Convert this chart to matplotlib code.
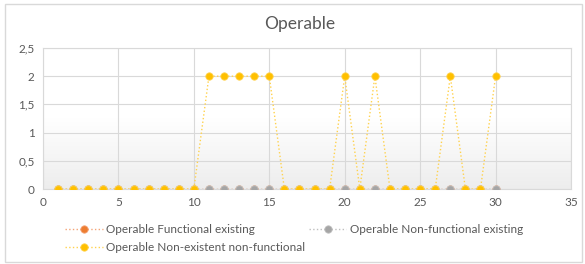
import matplotlib
matplotlib.use("Agg")
import matplotlib.pyplot as plt
import numpy as np
from matplotlib.lines import Line2D
from matplotlib.patches import Rectangle
from matplotlib.colors import LinearSegmentedColormap

plt.rcParams['font.family'] = ['Lato', 'DejaVu Sans']

x = list(range(1, 31))
functional_existing = [0] * 30
nonfunctional_existing = [0] * 30
nonexistent_nonfunctional = [0, 0, 0, 0, 0, 0, 0, 0, 0, 0,
                             2, 2, 2, 2, 2, 0, 0, 0, 0, 2,
                             0, 2, 0, 0, 0, 0, 2, 0, 0, 2]
labels = ["Operable Functional existing",
          "Operable Non-functional existing",
          "Operable Non-existent non-functional"]
title = "Operable"
yticks = [0, 0.5, 1, 1.5, 2, 2.5]
ytick_labels = ["0", "0,5", "1", "1,5", "2", "2,5"]
xticks = [0, 5, 10, 15, 20, 25, 30, 35]

c_orange = "#ED7D31"
c_gray = "#A5A5A5"
c_yellow = "#FFC000"
txt = "#595959"

fig = plt.figure(figsize=(5.85, 2.64), dpi=100)
fig.patches.append(Rectangle((5/585, 2/264), 577/585, 258/264, transform=fig.transFigure,
                             fill=False, edgecolor="#D9D9D9", linewidth=1))
ax = fig.add_axes([43/585, 1-189/264, (571-43)/585, (189-48)/264])

# gradient background
grad = np.linspace(0, 1, 256).reshape(-1, 1)
cmap = LinearSegmentedColormap.from_list("g", ["#FFFFFF", "#FFFFFF", "#EDEDED"])
ax.imshow(grad, extent=[0, 35, 0, 2.5], aspect='auto', cmap=cmap, origin='upper', zorder=0)

series = [(functional_existing, c_orange, "#F4A477"),
          (nonfunctional_existing, c_gray, "#BFBFBF"),
          (nonexistent_nonfunctional, c_yellow, "#FFD24D")]
handles = []
for (vals, col, light), lab in zip(series, labels):
    ax.plot(x, vals, linestyle=':', color=light, linewidth=1.0, zorder=2)
    ax.plot(x, vals, linestyle='none', marker='o', markersize=5.3,
            markerfacecolor=col, markeredgecolor=light, markeredgewidth=0.6, zorder=3)
    handles.append(Line2D([0], [0], linestyle=':', color=light, linewidth=1.0,
                          marker='o', markersize=5.3, markerfacecolor=col,
                          markeredgecolor=light, markeredgewidth=0.6))

ax.set_xlim(0, 35)
ax.set_ylim(0, 2.5)
ax.set_xticks(xticks)
ax.set_yticks(yticks)
ax.set_yticklabels(ytick_labels)
ax.grid(True, color="#D9D9D9", linewidth=0.8, zorder=1)
ax.set_axisbelow(True)
for s in ['top', 'right', 'left', 'bottom']:
    ax.spines[s].set_color("#D9D9D9")
    ax.spines[s].set_linewidth(0.8)
ax.tick_params(axis='both', length=0, labelsize=8.5, labelcolor=txt, pad=6)

fig.text(300/585, 1-24/264, title, ha='center', va='center', fontsize=12.5, color=txt)

leg = fig.legend([handles[0], handles[2], handles[1]], [labels[0], labels[2], labels[1]],
                 ncol=2, loc='upper left', bbox_to_anchor=(60/585, 1-219/264),
                 frameon=False, fontsize=8.5, handlelength=3.2, columnspacing=0.3,
                 labelspacing=0.6, handletextpad=0.3, borderaxespad=0)
for t in leg.get_texts():
    t.set_color(txt)

fig.savefig("out.png", dpi=100)
